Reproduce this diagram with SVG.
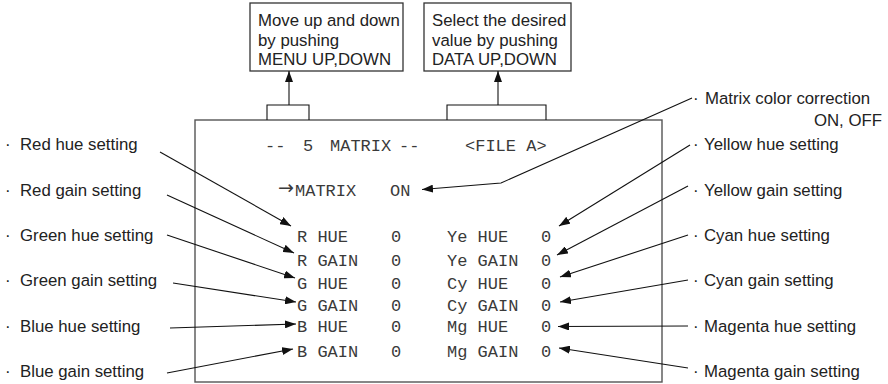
<svg xmlns="http://www.w3.org/2000/svg" width="888" height="384" viewBox="0 0 888 384">
<defs>
<marker id="ah" markerUnits="userSpaceOnUse" markerWidth="11" markerHeight="8" refX="11" refY="4" orient="auto">
<path d="M0,0 L11,4 L0,8 Z" fill="#111"/>
</marker>
<style>
.box{fill:#fff;stroke:#333;stroke-width:1.3}
.frame{fill:none;stroke:#555;stroke-width:1.4}
.ln{fill:none;stroke:#111;stroke-width:1.1}
.arr{fill:none;stroke:#111;stroke-width:1.1;marker-end:url(#ah)}
.sans{font-family:"Liberation Sans",Arial,sans-serif;font-size:16.8px;fill:#222}
.mono{font-family:"Liberation Mono","Courier New",monospace;font-size:17px;fill:#3a3a3a}
.sym{font-family:"DejaVu Sans",sans-serif;font-size:19px}
</style>
</defs>
<rect width="888" height="384" fill="#fff"/>

<g id="screen">
<rect class="frame" x="195" y="120" width="467" height="262"/>
<text class="mono" y="151"><tspan x="265">--</tspan><tspan x="303">5</tspan><tspan x="330">MATRIX</tspan><tspan x="399">--</tspan><tspan x="465">&lt;FILE A&gt;</tspan></text>
<text class="mono" y="196"><tspan class="sym" x="278" dy="-2">→</tspan><tspan x="295" dy="2">MATRIX</tspan><tspan x="390">ON</tspan></text>
<text class="mono" y="242"><tspan x="297">R HUE</tspan><tspan x="391">0</tspan><tspan x="447">Ye HUE</tspan><tspan x="541">0</tspan></text>
<text class="mono" y="266"><tspan x="297">R GAIN</tspan><tspan x="391">0</tspan><tspan x="447">Ye GAIN</tspan><tspan x="541">0</tspan></text>
<text class="mono" y="288.5"><tspan x="297">G HUE</tspan><tspan x="391">0</tspan><tspan x="447">Cy HUE</tspan><tspan x="541">0</tspan></text>
<text class="mono" y="310.5"><tspan x="297">G GAIN</tspan><tspan x="391">0</tspan><tspan x="447">Cy GAIN</tspan><tspan x="541">0</tspan></text>
<text class="mono" y="332"><tspan x="297">B HUE</tspan><tspan x="391">0</tspan><tspan x="447">Mg HUE</tspan><tspan x="541">0</tspan></text>
<text class="mono" y="357"><tspan x="297">B GAIN</tspan><tspan x="391">0</tspan><tspan x="447">Mg GAIN</tspan><tspan x="541">0</tspan></text>
</g>

<g id="menu-box">
<rect class="box" x="250" y="3" width="153" height="68"/>
<text class="sans" x="258" y="26">Move up and down</text>
<text class="sans" x="258" y="45.5">by pushing</text>
<text class="sans" x="258" y="65">MENU UP,DOWN</text>
</g>
<g id="data-box">
<rect class="box" x="424" y="3" width="147" height="68"/>
<text class="sans" x="432" y="26">Select the desired</text>
<text class="sans" x="432" y="45.5">value by pushing</text>
<text class="sans" x="432" y="65">DATA UP,DOWN</text>
</g>

<g id="labels-left" class="sans">
<text y="150"><tspan x="5">·</tspan><tspan x="20">Red hue setting</tspan></text>
<text y="195.5"><tspan x="5">·</tspan><tspan x="20">Red gain setting</tspan></text>
<text y="241"><tspan x="5">·</tspan><tspan x="20">Green hue setting</tspan></text>
<text y="286"><tspan x="5">·</tspan><tspan x="20">Green gain setting</tspan></text>
<text y="331.5"><tspan x="5">·</tspan><tspan x="20">Blue hue setting</tspan></text>
<text y="377"><tspan x="5">·</tspan><tspan x="20">Blue gain setting</tspan></text>
</g>
<g id="labels-right" class="sans">
<text y="104"><tspan x="693">·</tspan><tspan x="705">Matrix color correction</tspan></text>
<text x="882" y="126" text-anchor="end">ON, OFF</text>
<text y="150"><tspan x="693">·</tspan><tspan x="704">Yellow hue setting</tspan></text>
<text y="195.5"><tspan x="693">·</tspan><tspan x="704">Yellow gain setting</tspan></text>
<text y="241"><tspan x="693">·</tspan><tspan x="704">Cyan hue setting</tspan></text>
<text y="286"><tspan x="693">·</tspan><tspan x="704">Cyan gain setting</tspan></text>
<text y="331.5"><tspan x="693">·</tspan><tspan x="704">Magenta hue setting</tspan></text>
<text y="377"><tspan x="693">·</tspan><tspan x="704">Magenta gain setting</tspan></text>
</g>

<g id="connectors">
<path class="ln" d="M267,120 V105 H309 V120"/>
<path class="arr" d="M289,105 V71"/>
<path class="ln" d="M447,120 V105 H546 V120"/>
<path class="arr" d="M498,105 V71"/>
<path class="arr" d="M160,152 L291,226"/>
<path class="arr" d="M167,195 L294,253"/>
<path class="arr" d="M167,235 L295,278"/>
<path class="arr" d="M173,283 L296,302"/>
<path class="arr" d="M170,328 L296,324"/>
<path class="arr" d="M167,373 L293,349"/>
<path class="arr" d="M692,98 L501,183 L422,189.5"/>
<path class="arr" d="M690,145 L559,226"/>
<path class="arr" d="M688,186 L557,255"/>
<path class="arr" d="M688,235 L560,277"/>
<path class="arr" d="M688,280 L560,302"/>
<path class="arr" d="M688,326 L558,326.5"/>
<path class="arr" d="M688,368 L559,348"/>
</g>
</svg>
